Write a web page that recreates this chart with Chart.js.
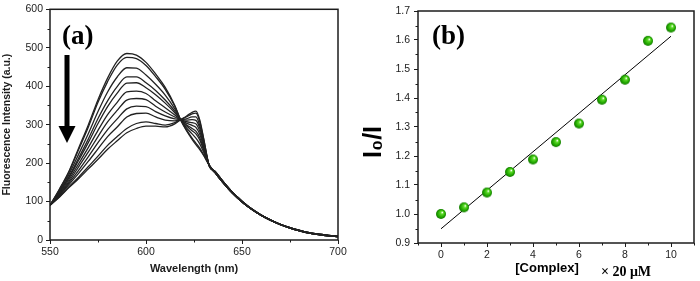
<!DOCTYPE html>
<html>
<head>
<meta charset="utf-8">
<script src="https://cdn.jsdelivr.net/npm/chart.js@4.4.1/dist/chart.umd.min.js"></script>
<style>
  html, body { margin: 0; padding: 0; background: #fff; }
  #wrap { position: relative; width: 700px; height: 281px; }
  canvas { position: absolute; top: 0; }
  #specChart { left: 0; }
  #sternChart { left: 350px; }
</style>
</head>
<body>
<div id="wrap">
  <canvas id="specChart" width="350" height="281"></canvas>
  <canvas id="sternChart" width="350" height="281"></canvas>
</div>
<script>
// (a) emission spectra
const wavelengths = [550,555,560,565,570,575,580,585,590,595,600,605,610,615,618,621,624,626,628,630,633,636,640,645,650,655,660,665,670,675,680,685,690,695,700];
const spec0  = [90,133,180,240,300,365,421,465,485,481,462,432,397,350,313,285,262,248,235,220,194,175,150,122,99,80,64,51,40,31,24,18,14,11,9];
const spec1  = [90,132,178,236,294,358,412,455,475,472,454,425,392,348,313,287,265,252,239,222,194,175,150,122,99,80,64,51,40,31,24,18,14,11,9];
const spec2  = [90,129,172,224,277,334,385,424,448,447,429,405,377,341,313,292,276,265,250,229,194,175,150,122,99,80,64,51,40,31,24,18,14,11,9];
const spec3  = [90,126,166,214,263,316,362,399,424,424,409,389,364,335,313,297,284,276,260,234,193,175,150,122,99,80,64,51,40,31,24,18,14,11,9];
const spec4  = [90,125,163,208,254,303,347,382,408,409,396,378,356,331,313,300,290,283,266,238,193,175,150,122,99,80,64,51,40,31,24,18,14,11,9];
const spec5  = [90,122,158,199,241,285,326,358,385,387,381,362,344,325,313,304,298,293,275,243,193,175,150,122,99,80,64,51,40,31,24,18,14,11,9];
const spec6  = [90,120,153,191,229,269,307,337,364,368,365,348,333,320,313,308,305,302,283,248,193,178,153,124,101,81,65,52,41,32,25,19,15,12,10];
const spec7  = [90,118,149,182,217,253,287,315,341,348,347,334,323,315,313,312,313,311,291,253,193,178,153,124,101,81,65,52,41,32,25,19,15,12,10];
const spec8  = [90,116,145,174,205,237,269,294,320,329,330,320,312,310,313,315,320,320,298,257,192,178,153,124,101,81,65,52,41,32,25,19,15,12,10];
const spec9  = [90,113,139,164,191,218,246,269,290,303,307,303,299,305,313,320,328,330,308,263,192,178,153,124,101,81,65,52,41,32,25,19,15,12,10];
const spec10 = [90,112,137,160,185,210,236,258,279,290,296,296,294,302,313,322,332,335,312,265,192,178,153,124,101,81,65,52,41,32,25,19,15,12,10];
const spectra = [spec0, spec1, spec2, spec3, spec4, spec5, spec6, spec7, spec8, spec9, spec10];

const specMinorX = [575, 625, 675];
const specMinorY = [50, 150, 250, 350, 450, 550];

// (b) Stern-Volmer plot
const complexConc = [0,1,2,3,4,5,6,7,8,9,10];
const ratioI0I    = [1.000,1.023,1.074,1.145,1.188,1.248,1.312,1.394,1.463,1.597,1.643];
const fitX = [0, 10];
const fitY = [0.949, 1.613];
const sternTicksX = [0, 2, 4, 6, 8, 10];
const sternMinorX = [-1, 1, 3, 5, 7, 9, 11];
const sternMinorY = [0.95, 1.05, 1.15, 1.25, 1.35, 1.45, 1.55, 1.65];

const ink = '#1c1c1c';
const sans = '"Liberation Sans", Arial, sans-serif';
const serif = '"Liberation Serif", "Times New Roman", serif';

// box round the plot + short minor ticks
const boxAndMinor = {
  id: 'boxAndMinor',
  afterDraw(chart, args, opts) {
    const { ctx, chartArea: a, scales } = chart;
    ctx.save();
    ctx.strokeStyle = ink;
    ctx.lineWidth = 1.5;
    ctx.strokeRect(a.left, a.top, a.right - a.left, a.bottom - a.top);
    ctx.lineWidth = 1;
    opts.minorX.forEach(v => {
      const x = Math.round(scales.x.getPixelForValue(v)) + 0.5;
      ctx.beginPath(); ctx.moveTo(x, a.bottom); ctx.lineTo(x, a.bottom + 2.5); ctx.stroke();
    });
    opts.minorY.forEach(v => {
      const y = Math.round(scales.y.getPixelForValue(v)) + 0.5;
      ctx.beginPath(); ctx.moveTo(a.left, y); ctx.lineTo(a.left - 2.5, y); ctx.stroke();
    });
    ctx.restore();
  }
};

const specLabels = {
  id: 'specLabels',
  afterDraw(chart) {
    const ctx = chart.ctx;
    ctx.save();
    ctx.fillStyle = '#000';
    ctx.font = 'bold 27px ' + serif;
    ctx.textBaseline = 'alphabetic';
    ctx.fillText('(a)', 62, 44);
    // downward arrow
    ctx.fillRect(64.5, 55, 5, 76);
    ctx.beginPath();
    ctx.moveTo(58.5, 126);
    ctx.lineTo(75.5, 126);
    ctx.lineTo(67, 143);
    ctx.closePath();
    ctx.fill();
    ctx.restore();
  }
};

const sternLabels = {
  id: 'sternLabels',
  afterDraw(chart) {
    const ctx = chart.ctx;
    ctx.save();
    ctx.fillStyle = '#000';
    ctx.font = 'bold 27px ' + serif;
    ctx.fillText('(b)', 82, 44);
    ctx.font = 'bold 13px ' + sans;
    ctx.textAlign = 'center';
    ctx.textBaseline = 'middle';
    ctx.fillText('[Complex]', 197, 268);
    ctx.font = 'bold 14px ' + serif;
    ctx.fillText('\u00d7 20 \u03bcM', 276, 272);
    ctx.translate(24, 142);
    ctx.rotate(-Math.PI / 2);
    ctx.font = 'bold 25px ' + sans;
    ctx.fillText('I\u2080/I', 0, 0);
    ctx.restore();
  }
};

function makeBall(r) {
  const c = document.createElement('canvas');
  c.width = c.height = r * 2 + 2;
  const g = c.getContext('2d');
  const cx = r + 1, cy = r + 1;
  const grad = g.createRadialGradient(cx + r * 0.3, cy - r * 0.35, r * 0.05, cx, cy, r);
  grad.addColorStop(0, '#f4fff0');
  grad.addColorStop(0.25, '#5fdc2a');
  grad.addColorStop(0.7, '#22a800');
  grad.addColorStop(1, '#147a00');
  g.fillStyle = grad;
  g.beginPath();
  g.arc(cx, cy, r, 0, Math.PI * 2);
  g.fill();
  return c;
}

const tickFont = { family: sans, size: 10.5 };

Chart.defaults.color = ink;

new Chart(document.getElementById('specChart'), {
  type: 'line',
  data: {
    datasets: spectra.map(s => ({
      data: wavelengths.map((w, i) => ({ x: w, y: s[i] })),
      borderColor: '#222',
      borderWidth: 1.3,
      pointRadius: 0,
      cubicInterpolationMode: 'monotone',
      fill: false
    }))
  },
  options: {
    responsive: false,
    animation: false,
    layout: { padding: { top: 7, right: 12, left: 0, bottom: 0 } },
    plugins: {
      legend: { display: false },
      tooltip: { enabled: false },
      boxAndMinor: { minorX: specMinorX, minorY: specMinorY }
    },
    scales: {
      x: {
        type: 'linear', min: 550, max: 700,
        afterFit: s => { s.height = 41; },
        ticks: { stepSize: 50, font: tickFont, padding: 2, maxRotation: 0 },
        grid: { drawOnChartArea: false, tickLength: 4, color: ink },
        border: { display: false },
        title: { display: true, text: 'Wavelength (nm)', font: { family: sans, size: 11, weight: 'bold' }, padding: { top: 0, bottom: 5 } }
      },
      y: {
        min: 0, max: 600,
        afterFit: s => { s.width = 50; },
        ticks: { stepSize: 100, font: tickFont, padding: 3 },
        grid: { drawOnChartArea: false, tickLength: 4, color: ink },
        border: { display: false },
        title: { display: true, text: 'Fluorescence Intensity (a.u.)', font: { family: sans, size: 10.5, weight: 'bold' }, padding: { top: 1, bottom: 0 } }
      }
    }
  },
  plugins: [boxAndMinor, specLabels]
});

new Chart(document.getElementById('sternChart'), {
  type: 'line',
  data: {
    datasets: [
      {
        data: complexConc.map((c, i) => ({ x: c, y: ratioI0I[i] })),
        showLine: false,
        pointStyle: makeBall(5),
        pointRadius: 5,
        order: 0
      },
      {
        data: fitX.map((c, i) => ({ x: c, y: fitY[i] })),
        borderColor: '#000',
        borderWidth: 1,
        pointRadius: 0,
        order: 1
      }
    ]
  },
  options: {
    responsive: false,
    animation: false,
    layout: { padding: { top: 11, right: 5, left: 0, bottom: 0 } },
    plugins: {
      legend: { display: false },
      tooltip: { enabled: false },
      boxAndMinor: { minorX: sternMinorX, minorY: sternMinorY }
    },
    scales: {
      x: {
        type: 'linear', min: -1, max: 11,
        afterFit: s => { s.height = 38; },
        afterBuildTicks: s => { s.ticks = sternTicksX.map(v => ({ value: v })); },
        ticks: { font: tickFont, padding: 2, maxRotation: 0 },
        grid: { drawOnChartArea: false, tickLength: 4, color: ink },
        border: { display: false }
      },
      y: {
        min: 0.9, max: 1.7,
        afterFit: s => { s.width = 68; },
        ticks: { stepSize: 0.1, font: tickFont, padding: 4, callback: v => v.toFixed(1) },
        grid: { drawOnChartArea: false, tickLength: 4, color: ink },
        border: { display: false }
      }
    }
  },
  plugins: [boxAndMinor, sternLabels]
});
</script>
</body>
</html>
